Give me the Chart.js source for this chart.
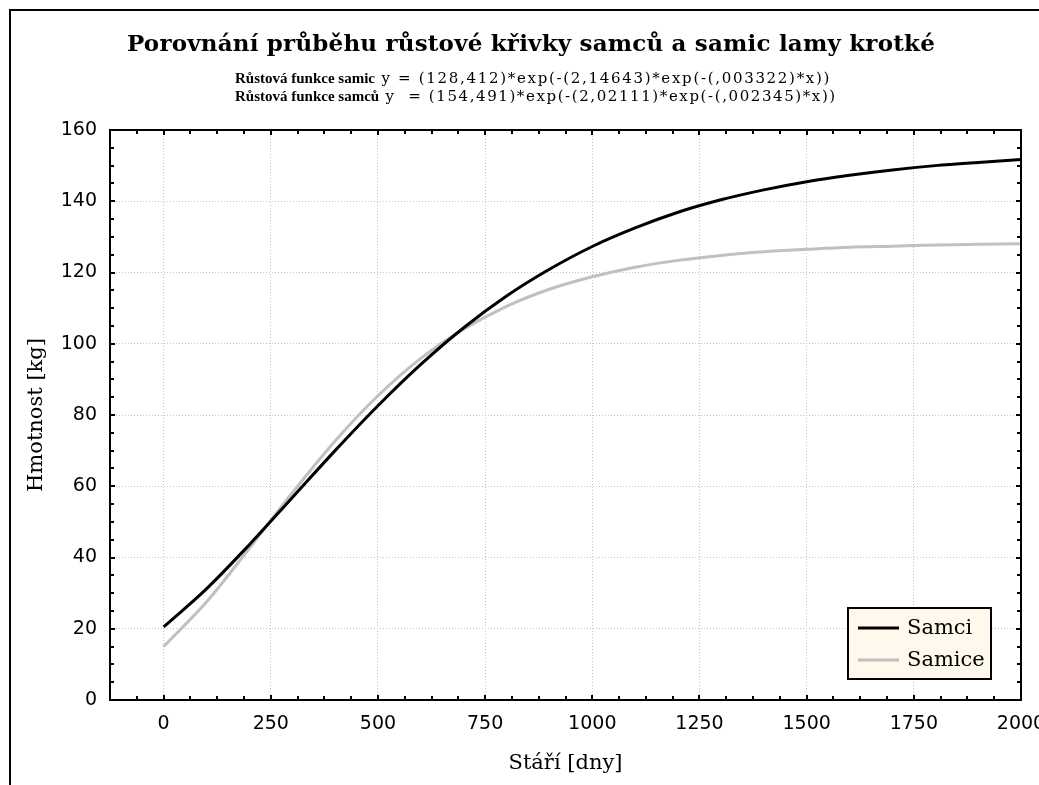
<!DOCTYPE html>
<html>
<head>
<meta charset="utf-8">
<script src="https://cdn.jsdelivr.net/npm/chart.js@4.4.0/dist/chart.umd.min.js"></script>
<style>
html,body{margin:0;padding:0;background:#fff;overflow:hidden}
#wrap{width:1039px;height:785px;position:relative}
</style>
</head>
<body>
<div id="wrap"><canvas id="c"></canvas></div>
<script>
// ---- data ----
const titleText = 'Porovnání průběhu růstové křivky samců a samic lamy krotké';
const subtitleBold = ['Růstová funkce samic', 'Růstová funkce samců'];
const subtitleRest = [' y = (128,412)*exp(-(2,14643)*exp(-(,003322)*x))', ' y  = (154,491)*exp(-(2,02111)*exp(-(,002345)*x))'];
const xAxisTitle = 'Stáří [dny]';
const yAxisTitle = 'Hmotnost [kg]';
const seriesNames = ['Samci', 'Samice'];
const days   = [0, 100, 200, 300, 400, 500, 600, 700, 800, 900, 1000, 1100, 1200, 1300, 1400, 1500, 1600, 1700, 1800, 1900, 2000];
const samci  = [20.5, 31.2, 43.6, 56.8, 70.0, 82.6, 94.2, 104.5, 113.4, 120.9, 127.3, 132.5, 136.9, 140.4, 143.2, 145.5, 147.3, 148.8, 150.0, 150.9, 151.7];
const samice = [15.0, 27.5, 42.6, 58.1, 72.7, 85.4, 95.9, 104.1, 110.5, 115.3, 118.8, 121.5, 123.4, 124.8, 125.8, 126.5, 127.1, 127.4, 127.7, 127.9, 128.1];
const xTickValues = [0, 250, 500, 750, 1000, 1250, 1500, 1750, 2000];
const yTickValues = [0, 20, 40, 60, 80, 100, 120, 140, 160];
const xRange = [-125, 2000];
const yRange = [0, 160];
const xMinorStep = 62.5;
const yMinorStep = 5;

// ---- styles ----
const seriesColors = ['#000000', '#c0c0c0'];
const gridColor = '#c4c4c4';

function fitText(ctx, text, x, y, width) {
  ctx.letterSpacing = '0px';
  const w = ctx.measureText(text).width;
  const n = [...text].length;
  const ls = Math.max(0, (width - w) / n);
  ctx.letterSpacing = ls.toFixed(2) + 'px';
  ctx.fillText(text, x, y);
  ctx.letterSpacing = '0px';
}

const decor = {
  id: 'decor',
  afterDraw(chart) {
    const ctx = chart.ctx, a = chart.chartArea;
    const xs = chart.scales.x, ys = chart.scales.y;
    ctx.save();
    // outer frame (cut off on right/bottom)
    ctx.strokeStyle = '#000';
    ctx.lineWidth = 2;
    ctx.beginPath();
    ctx.moveTo(10, chart.height); ctx.lineTo(10, 10); ctx.lineTo(chart.width, 10);
    ctx.stroke();
    // plot box
    ctx.strokeRect(a.left, a.top, a.right - a.left, a.bottom - a.top);
    // inward ticks on all sides
    ctx.beginPath();
    for (let v = xRange[0]; v <= xRange[1] + 1e-9; v += xMinorStep) {
      const px = Math.round(xs.getPixelForValue(v));
      const L = (Math.abs(v % 250) < 1e-9) ? 5 : 4;
      ctx.moveTo(px, a.bottom); ctx.lineTo(px, a.bottom - L);
      ctx.moveTo(px, a.top); ctx.lineTo(px, a.top + L);
    }
    for (let v = yRange[0]; v <= yRange[1] + 1e-9; v += yMinorStep) {
      const py = Math.round(ys.getPixelForValue(v));
      const L = (v % 20 === 0) ? 5 : 4;
      ctx.moveTo(a.left, py); ctx.lineTo(a.left + L, py);
      ctx.moveTo(a.right, py); ctx.lineTo(a.right - L, py);
    }
    ctx.stroke();

    // header text
    ctx.fillStyle = '#000';
    ctx.textBaseline = 'alphabetic';
    ctx.textAlign = 'left';
    ctx.font = 'bold 23px "DejaVu Serif"';
    fitText(ctx, titleText, 127, 51, 808);
    const baseY = [83, 101];
    const endX = [831, 837];
    for (let i = 0; i < 2; i++) {
      ctx.font = 'bold 15px "Liberation Serif"';
      ctx.fillText(subtitleBold[i], 235, baseY[i]);
      const w = ctx.measureText(subtitleBold[i]).width;
      ctx.font = '15px "DejaVu Serif"';
      fitText(ctx, subtitleRest[i], 235 + w, baseY[i], endX[i] - 235 - w);
    }

    // legend
    const lx = 848, ly = 608, lw = 143, lh = 71;
    ctx.fillStyle = '#fff8ec';
    ctx.fillRect(lx, ly, lw, lh);
    ctx.strokeStyle = '#000';
    ctx.lineWidth = 2;
    ctx.strokeRect(lx, ly, lw, lh);
    chart.data.datasets.forEach((ds, i) => {
      const y = ly + 20 + i * 32;
      ctx.strokeStyle = ds.borderColor;
      ctx.lineWidth = 3;
      ctx.beginPath(); ctx.moveTo(lx + 10, y); ctx.lineTo(lx + 51, y); ctx.stroke();
      ctx.fillStyle = '#000';
      ctx.font = '21px "DejaVu Serif"';
      ctx.textBaseline = 'middle';
      ctx.fillText(ds.label, lx + 59, y + 1);
    });
    ctx.restore();
  }
};

const mk = (ys) => days.map((d, i) => ({ x: d, y: ys[i] }));

new Chart(document.getElementById('c'), {
  type: 'line',
  data: {
    datasets: [
      { label: seriesNames[0], data: mk(samci), borderColor: seriesColors[0], borderWidth: 3, pointRadius: 0, tension: 0.35, fill: false },
      { label: seriesNames[1], data: mk(samice), borderColor: seriesColors[1], borderWidth: 3, pointRadius: 0, tension: 0.35, fill: false }
    ]
  },
  options: {
    responsive: true,
    maintainAspectRatio: false,
    animation: false,
    layout: { padding: { left: 10, top: 130, right: 18, bottom: 0 } },
    plugins: { legend: { display: false }, tooltip: { enabled: false }, title: { display: false } },
    scales: {
      x: {
        type: 'linear', min: xRange[0], max: xRange[1],
        afterBuildTicks: s => { s.ticks = xTickValues.map(v => ({ value: v })); },
        afterFit: s => { s.height = 85; s.paddingLeft = 0; s.paddingRight = 0; },
        grid: { color: gridColor, lineWidth: 1, drawTicks: false },
        border: { display: false, dash: [1, 2] },
        ticks: { font: { family: 'DejaVu Sans', size: 19 }, color: '#000', padding: 13, maxRotation: 0, autoSkip: false, callback: v => String(v) },
        title: { display: true, text: xAxisTitle, color: '#000', font: { family: 'DejaVu Serif', size: 21 }, padding: { top: 0, bottom: 9 } }
      },
      y: {
        type: 'linear', min: yRange[0], max: yRange[1],
        afterBuildTicks: s => { s.ticks = yTickValues.map(v => ({ value: v })); },
        afterFit: s => { s.width = 100; s.paddingTop = 0; s.paddingBottom = 0; },
        grid: { color: gridColor, lineWidth: 1, drawTicks: false },
        border: { display: false, dash: [1, 2] },
        ticks: { font: { family: 'DejaVu Sans', size: 19 }, color: '#000', padding: 13, callback: v => String(v) },
        title: { display: true, text: yAxisTitle, color: '#000', font: { family: 'DejaVu Serif', size: 21 }, padding: { top: 14, bottom: 0 } }
      }
    }
  },
  plugins: [decor]
});
</script>
</body>
</html>
